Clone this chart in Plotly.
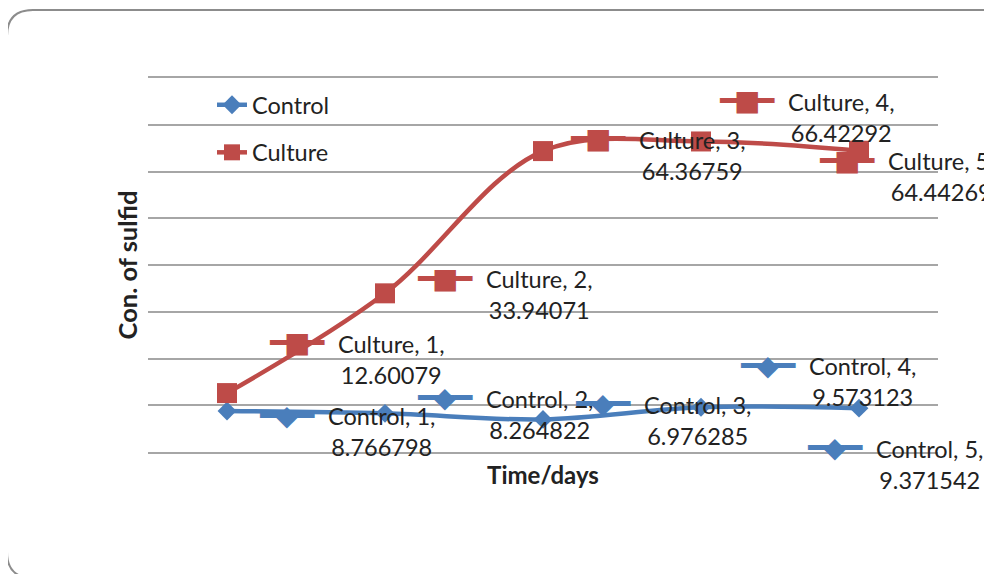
import plotly.graph_objects as go

# ---- data ----
days = [1, 2, 3, 4, 5]
control = [8.766798, 8.264822, 6.976285, 9.573123, 9.371542]
culture = [12.60079, 33.94071, 64.36759, 66.42292, 64.44269]
series_names = ["Control", "Culture"]

# label placement offsets (pixels, relative to each data point) -- styling only
control_dx = [154, 154, 154, 161, 70]
control_dy = [20.5, 1.1, 1.1, -25.7, 56.3]
culture_dx = [164, 154, 149, 140, 82]
culture_dy = [-33.6, 1.2, 4.4, -24.0, 25.8]

BLUE = "#4A7EBB"
RED = "#BE4B48"
TXT = "#222222"
FONT = "Lato"
FS = 23.5

# page body has an 8px margin: shift the layout so it lands where the reference has it
OFF = 8
W, H = 992 - OFF, 574 - OFF
L, T = 148 - OFF, 78 - OFF
PW, PH = 790, 374
R, B = W - L - PW, H - T - PH


def px2paper(x, y):
    # x, y in reference-window pixels
    x -= OFF
    y -= OFF
    return (x - L) / PW, (T + PH - y) / PH


fig = go.Figure()

fig.add_trace(go.Scatter(
    x=days, y=control, name=series_names[0], mode="lines+markers",
    line=dict(color=BLUE, width=4.5, shape="spline", smoothing=1),
    marker=dict(symbol="diamond", size=14.5, color=BLUE),
    legendgroup="a"))
fig.add_trace(go.Scatter(
    x=days, y=culture, name=series_names[1], mode="lines+markers",
    line=dict(color=RED, width=4.5, shape="spline", smoothing=1),
    marker=dict(symbol="square", size=20, color=RED),
    legendgroup="b"))

annotations = []
KEY_DX = -94
for name, vals, dxs, dys, color, sym in [
    ("Control", control, control_dx, control_dy, BLUE, "◆"),
    ("Culture", culture, culture_dx, culture_dy, RED, "■"),
]:
    for d, v, dx, dy in zip(days, vals, dxs, dys):
        # legend-key inside the data label: a line with the marker on top
        annotations.append(dict(
            x=d, y=v, xref="x", yref="y", showarrow=False,
            text="━━━",
            font=dict(family="DejaVu Sans", size=30, color=color),
            xanchor="center", yanchor="middle",
            xshift=dx + KEY_DX, yshift=-(dy - 16.5)))
        annotations.append(dict(
            x=d, y=v, xref="x", yref="y", showarrow=False,
            text=sym,
            font=dict(family="DejaVu Sans", size=28, color=color),
            xanchor="center", yanchor="middle",
            xshift=dx + KEY_DX, yshift=-(dy - 16.5)))
        annotations.append(dict(
            x=d, y=v, xref="x", yref="y", showarrow=False,
            text=f"{name}, {d},<br>{v}",
            font=dict(family=FONT, size=FS, color=TXT),
            xanchor="center", yanchor="middle", align="center",
            xshift=dx, yshift=-dy))

# rounded chart border (reference pixel geometry converted to paper coords)
bx0, by0, bx1, by1, rr = 7, 10, 1010, 578, 26
pts = [
    ("M", bx1, by0), ("L", bx0 + rr, by0), ("Q", bx0, by0, bx0, by0 + rr),
    ("L", bx0, by1 - rr), ("Q", bx0, by1, bx0 + rr, by1), ("L", bx1, by1),
]
path = ""
for p in pts:
    cmd = p[0]
    coords = p[1:]
    parts = []
    for i in range(0, len(coords), 2):
        xx, yy = px2paper(coords[i], coords[i + 1])
        parts.append(f"{xx:.5f},{yy:.5f}")
    path += cmd + " " + " ".join(parts) + " "

fig.update_layout(
    width=W, height=H, autosize=False,
    margin=dict(l=L, r=R, t=T, b=B, pad=0),
    paper_bgcolor="white", plot_bgcolor="white",
    font=dict(family=FONT, size=FS, color=TXT),
    showlegend=True,
    legend=dict(x=px2paper(212, 0)[0], y=px2paper(0, 83)[1], xanchor="left", yanchor="top",
                bgcolor="rgba(0,0,0,0)", font=dict(family=FONT, size=FS, color=TXT),
                tracegroupgap=14, itemwidth=30),
    xaxis=dict(range=[0.5, 5.5], showgrid=False, zeroline=False, showticklabels=False,
               ticks="", showline=True, linecolor="#A6A6A6", linewidth=2, mirror=True,
               title=dict(text="<b>Time/days</b>", font=dict(family=FONT, size=24, color=TXT),
                          standoff=14)),
    yaxis=dict(range=[0, 80], dtick=10, showgrid=True, gridcolor="#A6A6A6", gridwidth=2,
               zeroline=False, showticklabels=False, ticks="", showline=False,
               title=dict(text="<b>Con. of sulfid</b>", font=dict(family=FONT, size=25.5, color=TXT),
                          standoff=2)),
    shapes=[dict(type="path", xref="paper", yref="paper", path=path.strip(),
                 line=dict(color="#8C8C8C", width=2), layer="above")],
    annotations=annotations,
)

fig.write_html("out.html")
